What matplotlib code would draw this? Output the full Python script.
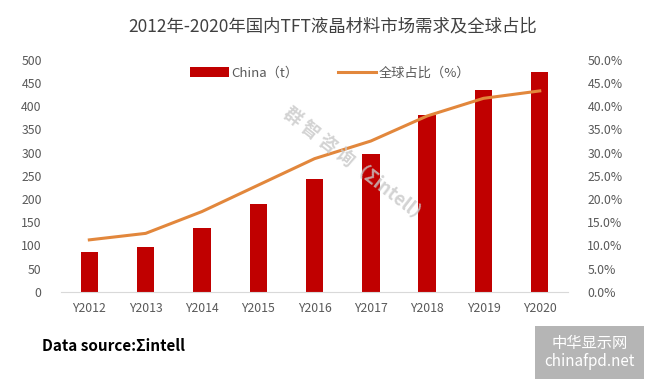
import matplotlib.pyplot as plt
from matplotlib.ticker import FuncFormatter

plt.rcParams['font.family'] = ['Noto Sans CJK SC', 'DejaVu Sans']

# 数据
years = ['Y2012', 'Y2013', 'Y2014', 'Y2015', 'Y2016', 'Y2017', 'Y2018', 'Y2019', 'Y2020']
china_t = [85, 97, 138, 189, 244, 298, 382, 436, 474]
global_share = [11.2, 12.6, 17.3, 23.0, 28.7, 32.5, 37.9, 41.7, 43.3]

bar_color = '#C00000'
line_color = '#E2873C'
txt_gray = '#595959'

fig = plt.figure(figsize=(6.65, 3.81), dpi=100)
ax = fig.add_axes([0.092, 0.234, 0.762, 0.609])
ax2 = ax.twinx()

x = range(len(years))
bars = ax.bar(x, china_t, width=0.31, color=bar_color, label='China（t）', zorder=2)
line, = ax2.plot(x, global_share, color=line_color, linewidth=2.2, label='全球占比（%）', zorder=3)

ax.set_ylim(0, 500)
ax.set_yticks(range(0, 501, 50))
ax2.set_ylim(0, 50)
ax2.set_yticks([i * 5 for i in range(11)])
ax2.yaxis.set_major_formatter(FuncFormatter(lambda v, p: f'{v:.1f}%'))
ax.set_xlim(-0.5, len(years) - 0.5)
ax.set_xticks(list(x))
ax.set_xticklabels(years)

for a in (ax, ax2):
    for s in a.spines.values():
        s.set_visible(False)
    a.tick_params(length=0, colors=txt_gray, labelsize=8.8)
ax.spines['bottom'].set_visible(True)
ax.spines['bottom'].set_color('#D9D9D9')
ax.tick_params(axis='y', pad=14)
ax2.tick_params(axis='y', pad=14)
ax.tick_params(axis='x', pad=7)

# 把柱子放到折线下层
ax.set_zorder(1)
ax2.set_zorder(2)
ax2.patch.set_visible(False)

fig.legend([bars, line], ['China（t）', '全球占比（%）'], loc='center', ncol=2,
           bbox_to_anchor=(0.497, 0.808), frameon=False, fontsize=9.5,
           labelcolor=txt_gray, handlelength=2.9, handletextpad=0.2, columnspacing=3.0)

fig.text(0.5, 0.93, '2012年-2020年国内TFT液晶材料市场需求及全球占比',
         ha='center', va='center', fontsize=12.5, color='#404040')

# 水印
fig.text(0.535, 0.565, '群 智 咨 询（Σintell）', rotation=-38, ha='center', va='center',
         fontsize=13, color='#C8C8C8', alpha=0.8, fontweight='bold')

fig.text(0.063, 0.092, 'Data source:Σintell', ha='left', va='center',
         fontsize=11, fontweight='bold', color='black')

fig.text(0.887, 0.075, '中华显示网\nchinafpd.net', ha='center', va='center',
         fontsize=11, color='white', linespacing=1.1,
         bbox=dict(boxstyle='square,pad=0.6', facecolor='#B5B5B5', edgecolor='none'))

fig.savefig('out.png', dpi=100)
